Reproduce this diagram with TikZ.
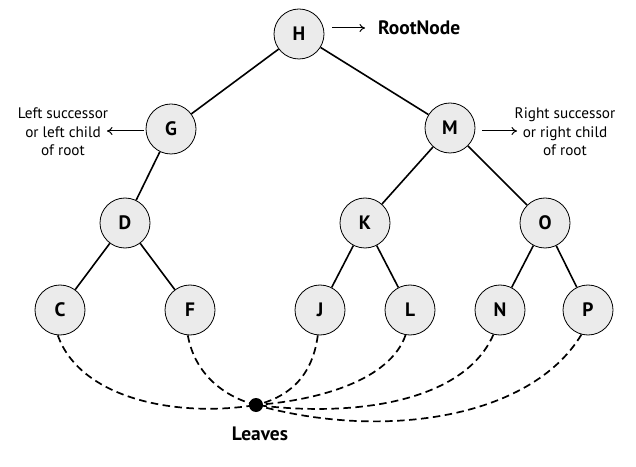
\documentclass[tikz,border=0pt]{standalone}
\usepackage{fontspec}
\setmainfont{PT Sans}
\usetikzlibrary{arrows.meta}
\begin{document}
\begin{tikzpicture}[x=1bp,y=-1bp,
  treenode/.style={circle,draw=black,line width=0.8bp,fill=black!8,minimum size=50bp,inner sep=0pt,
    font=\fontsize{19.5}{22}\selectfont\bfseries},
  edge/.style={line width=1.6bp},
  leafline/.style={line width=1.7bp,dash pattern=on 7.5bp off 4.5bp},
  pointer/.style={line width=1bp,-{To[length=5.5bp,width=8bp]}},
  sidetext/.style={align=center,font=\fontsize{15.3}{18.5}\selectfont,inner sep=0pt},
  labeltext/.style={font=\fontsize{19.5}{22}\selectfont\bfseries,inner sep=0pt}
]
\useasboundingbox (0,0) rectangle (636,467);
\node[treenode] (H) at (299,34) {H};
\node[treenode] (G) at (171,129) {G};
\node[treenode] (M) at (450,128) {M};
\node[treenode] (D) at (125,223) {D};
\node[treenode] (K) at (365,223) {K};
\node[treenode] (O) at (545,223) {O};
\node[treenode] (C) at (60,310) {C};
\node[treenode] (F) at (190,310) {F};
\node[treenode] (J) at (320,310) {J};
\node[treenode] (L) at (410,310) {L};
\node[treenode] (N) at (500,310) {N};
\node[treenode] (P) at (588,310) {P};

\draw[edge] (H) -- (G);
\draw[edge] (H) -- (M);
\draw[edge] (G) -- (D);
\draw[edge] (M) -- (K);
\draw[edge] (M) -- (O);
\draw[edge] (D) -- (C);
\draw[edge] (D) -- (F);
\draw[edge] (K) -- (J);
\draw[edge] (K) -- (L);
\draw[edge] (O) -- (N);
\draw[edge] (O) -- (P);

\node[labeltext,anchor=west] (root) at (378,28) {RootNode};
\coordinate (rootarrowstart) at (332,28);
\coordinate (rootarrowend) at (365,28);
\draw[pointer] (rootarrowstart) -- (rootarrowend);

\node[sidetext] (lefttext) at (63,132) {Left successor\\or left child\\of root};
\coordinate (leftarrowstart) at (144,131);
\coordinate (leftarrowend) at (107,131);
\draw[pointer] (leftarrowstart) -- (leftarrowend);

\node[sidetext] (righttext) at (565,132) {Right successor\\or right child\\of root};
\coordinate (rightarrowstart) at (482,131);
\coordinate (rightarrowend) at (517,131);
\draw[pointer] (rightarrowstart) -- (rightarrowend);

\node[circle,fill=black,minimum size=14bp,inner sep=0pt] (dot) at (256,405) {};
\node[labeltext] (leaves) at (260,434) {Leaves};

\draw[leafline] (C.265) .. controls (80,398) and (175,418) .. (dot.center);
\draw[leafline] (F.265) .. controls (195,375) and (225,397) .. (dot.center);
\draw[leafline] (J.265) .. controls (312,380) and (285,398) .. (dot.center);
\draw[leafline] (L.260) .. controls (390,380) and (320,400) .. (dot.center);
\draw[leafline] (N.255) .. controls (465,400) and (360,418) .. (dot.center);
\draw[leafline] (P.255) .. controls (530,420) and (380,440) .. (dot.center);
\end{tikzpicture}
\end{document}
